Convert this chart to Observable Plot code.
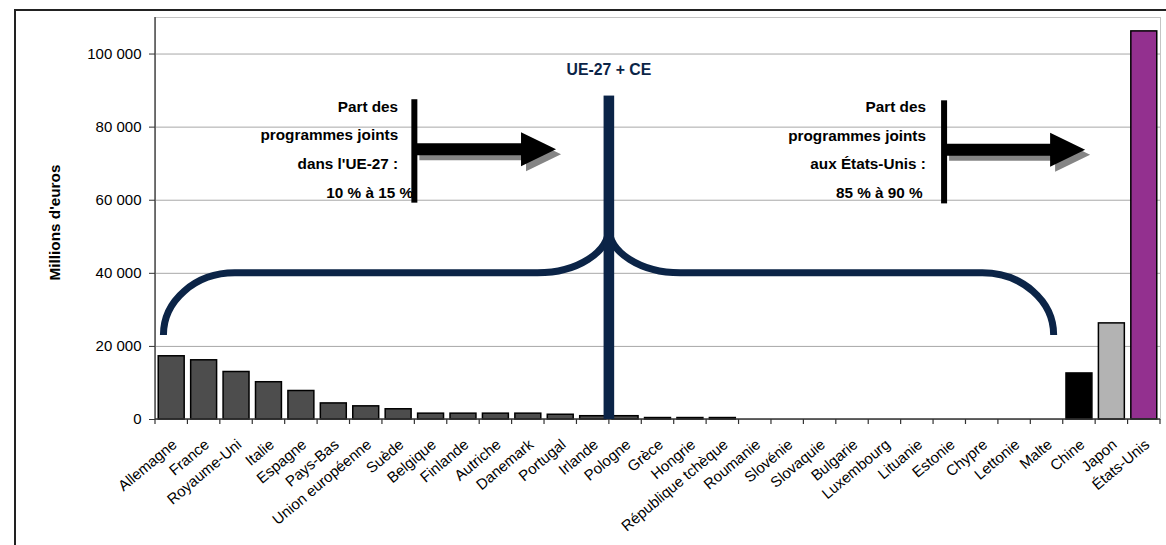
<!DOCTYPE html>
<html><head><meta charset="utf-8">
<script src="https://cdn.jsdelivr.net/npm/d3@7"></script>
<script src="https://cdn.jsdelivr.net/npm/@observablehq/plot@0.6"></script>
<style>
html,body{margin:0;padding:0;background:#fff;}
#wrap{position:relative;width:1166px;height:545px;overflow:hidden;}
#frame{position:absolute;left:14px;top:9px;width:1170px;height:570px;border:2px solid #222;box-sizing:border-box;pointer-events:none;}
</style></head><body>
<div id="wrap"><div id="frame"></div></div>
<script>
// ---- data ----
const categories = ["Allemagne","France","Royaume-Uni","Italie","Espagne","Pays-Bas","Union européenne","Suède","Belgique","Finlande","Autriche","Danemark","Portugal","Irlande","Pologne","Grèce","Hongrie","République tchèque","Roumanie","Slovénie","Slovaquie","Bulgarie","Luxembourg","Lituanie","Estonie","Chypre","Lettonie","Malte","Chine","Japon","États-Unis"];
const values = [17300,16200,13000,10200,7800,4400,3600,2800,1600,1600,1600,1600,1300,900,900,400,400,400,0,0,0,0,0,0,0,0,0,0,12600,26300,106200];
const regions = ["UE","UE","UE","UE","UE","UE","UE","UE","UE","UE","UE","UE","UE","UE","UE","UE","UE","UE","UE","UE","UE","UE","UE","UE","UE","UE","UE","UE","Chine","Japon","États-Unis"];
const yTicks = [0,20000,40000,60000,80000,100000];
const yLabel = "Millions d'euros";
const groupLabel = "UE-27 + CE";
const leftNote = ["Part des","programmes joints","dans l'UE-27 :","10 % à 15 %"];
const rightNote = ["Part des","programmes joints","aux États-Unis :","85 % à 90 %"];

// annotation anchors (category + fraction of band step, value)
const divider = {cat:"Pologne", frac:0, top:88500};
const brace = {left:{cat:"Allemagne",frac:0.26}, right:{cat:"Malte",frac:0.72}, level:40000, end:23000, peak:52400, corner:2.2};
const arrows = [
  {stem:{cat:"Belgique",frac:0}, tip:{cat:"Portugal",frac:0.37}, top:87500, bottom:59200, mid:73800},
  {stem:{cat:"Estonie",frac:0.34}, tip:{cat:"Chine",frac:0.69}, top:87200, bottom:59000, mid:73700}
];
const notes = [
  {lines:leftNote, cat:"Suède", fracs:[0.5,0.5,0.5,0.96], baseline:84100},
  {lines:rightNote, cat:"Lituanie", fracs:[0.78,0.78,0.78,0.68], baseline:84000}
];
const labelValue = 94100;

const NAVY = "#0b2447";
const font = "'Liberation Sans', Arial, Helvetica, sans-serif";
const fmt = d => d3.format(",")(d).replace(/,/g, " ");

const data = categories.map((c,i) => ({category:c, value:values[i], region:regions[i]}));

const chart = Plot.plot({
  width:1166, height:545,
  marginLeft:155, marginRight:6, marginTop:17, marginBottom:126,
  style:{fontFamily:font, fontSize:"15px", color:"#000", background:"transparent", overflow:"visible"},
  x:{domain:categories, paddingInner:0.2, paddingOuter:0.1, round:false, label:null},
  y:{domain:[0,110000], label:null},
  color:{domain:["UE","Chine","Japon","États-Unis"], range:["#4d4d4d","#000000","#b3b3b3","#93308f"]},
  marks:[
    Plot.ruleY(yTicks.filter(d => d > 0), {stroke:"#a8a8a8", strokeWidth:1}),
    Plot.frame({stroke:"#c4c4c4"}),
    Plot.barY(data.filter(d => d.value > 0), {x:"category", y:"value", fill:"region", stroke:"#000", strokeWidth:1.5}),
    Plot.axisY({ticks:yTicks, tickFormat:fmt, tickSize:6, tickPadding:8, label:null, stroke:"#333"}),
    Plot.axisX({tickSize:0, tickRotate:-40, tickPadding:23, dx:3, label:null}),
    Plot.text([yLabel], {frameAnchor:"left", text:d => d, textAnchor:"middle", lineAnchor:"middle", rotate:-90, dx:-100, dy:4, fontWeight:"bold", fontSize:15.3})
  ]
});
document.getElementById("wrap").prepend(chart);

// ---- annotations through the chart's scales ----
const xs = chart.scale("x"), ys = chart.scale("y");
const step = xs.step, bw = xs.bandwidth;
const bx = (cat, frac) => xs.apply(cat) - (step - bw) / 2 + frac * step;
const y = v => ys.apply(v);
const svg = d3.select(chart);
const g = svg.append("g");

// axis lines and boundary ticks
const x0 = bx(categories[0], 0), x1 = bx(categories[categories.length-1], 1);
g.append("line").attr("x1", x0).attr("x2", x0).attr("y1", y(110000)).attr("y2", y(0)).attr("stroke", "#333").attr("stroke-width", 1.3);
g.append("line").attr("x1", x0).attr("x2", x1).attr("y1", y(0)).attr("y2", y(0)).attr("stroke", "#333").attr("stroke-width", 1.3);
categories.concat([null]).forEach((c, i) => {
  const xx = c ? bx(c, 0) : x1;
  g.append("line").attr("x1", xx).attr("x2", xx).attr("y1", y(0)).attr("y2", y(0) + 5).attr("stroke", "#333").attr("stroke-width", 1.2);
});

// brace
{
  const xl = bx(brace.left.cat, brace.left.frac), xr = bx(brace.right.cat, brace.right.frac);
  const xm = bx(divider.cat, divider.frac);
  const cw = brace.corner * step;
  const yb = y(brace.level), ye = y(brace.end), yp = y(brace.peak);
  const p = `M${xl},${ye} A${cw},${ye-yb} 0 0 1 ${xl+cw},${yb} H${xm-cw} A${cw},${yb-yp} 0 0 0 ${xm},${yp} A${cw},${yb-yp} 0 0 0 ${xm+cw},${yb} H${xr-cw} A${cw},${ye-yb} 0 0 1 ${xr},${ye}`;
  g.append("path").attr("d", p).attr("fill", "none").attr("stroke", NAVY).attr("stroke-width", 7);
  // divider
  g.append("rect").attr("x", xm - 5.3).attr("width", 10.6).attr("y", y(divider.top)).attr("height", y(0) - y(divider.top)).attr("fill", NAVY);
  g.append("text").attr("x", xm).attr("y", y(labelValue)).attr("text-anchor", "middle")
    .attr("font-family", font).attr("font-weight", "bold").attr("font-size", 15.8).attr("fill", NAVY).text(groupLabel);
}

// arrows
arrows.forEach(a => {
  const sx = bx(a.stem.cat, a.stem.frac), tx = bx(a.tip.cat, a.tip.frac), my = y(a.mid);
  const be = tx - 35, bh = 6, hh = 17;
  const pts = (dx, dy) => [[sx+dx, my-bh+dy],[be+dx, my-bh+dy],[be+dx, my-hh+dy],[tx+dx, my+dy],[be+dx, my+hh+dy],[be+dx, my+bh+dy],[sx+dx, my+bh+dy]].map(p => p.join(",")).join(" ");
  g.append("polygon").attr("points", pts(5, 5)).attr("fill", "#858585");
  g.append("polygon").attr("points", pts(0, 0)).attr("fill", "#000");
  g.append("rect").attr("x", sx - 3).attr("width", 6).attr("y", y(a.top)).attr("height", y(a.bottom) - y(a.top)).attr("fill", "#000");
});

// notes
notes.forEach(n => {
  n.lines.forEach((t, i) => {
    g.append("text").attr("x", bx(n.cat, n.fracs[i])).attr("y", y(n.baseline) + i * 28.7)
      .attr("text-anchor", "end").attr("font-family", font).attr("font-weight", "bold").attr("font-size", 15.3)
      .attr("fill", "#000").text(t);
  });
});
</script>
</body></html>
